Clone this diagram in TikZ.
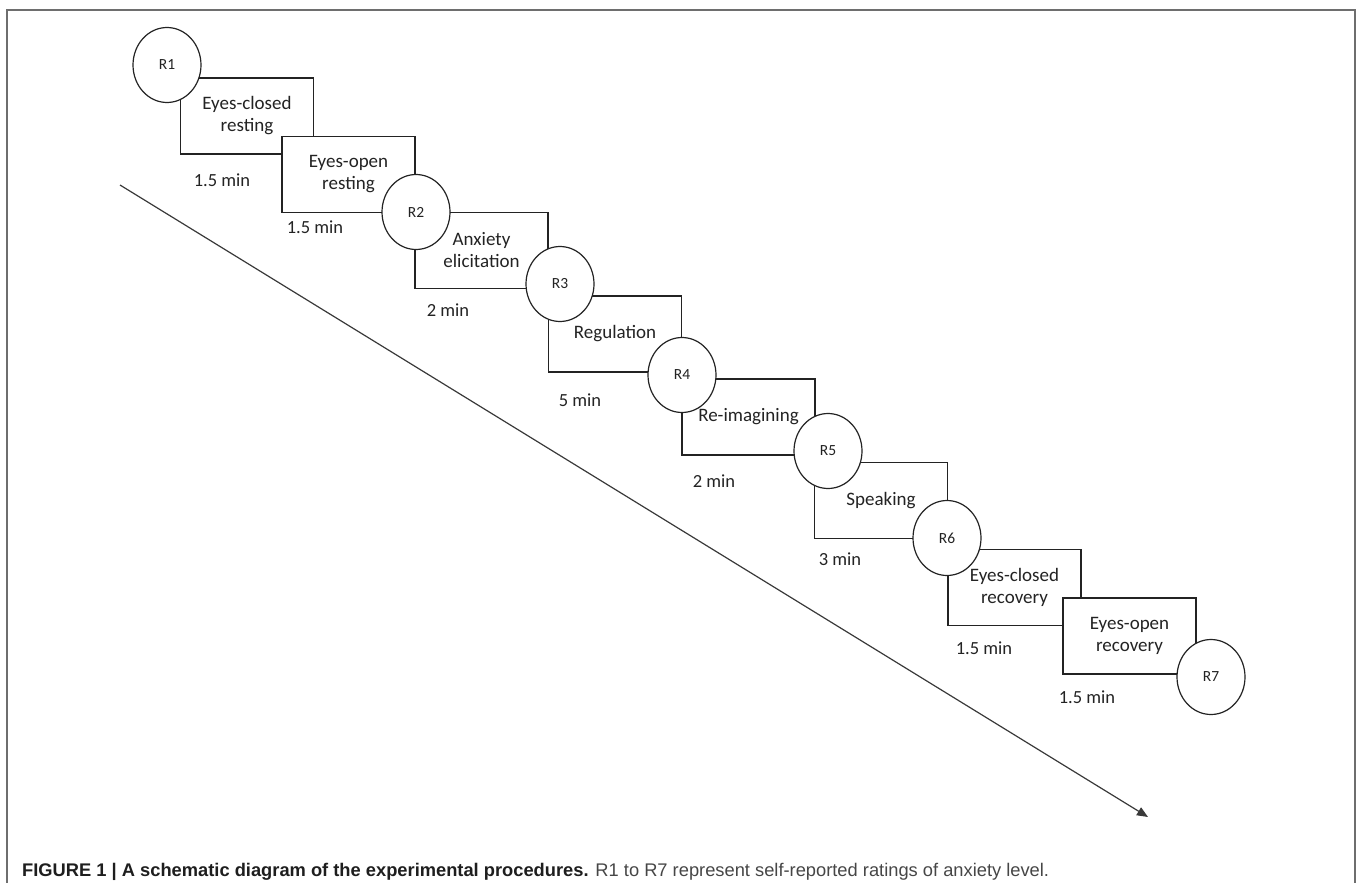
\documentclass[tikz,border=0pt]{standalone}
\usepackage{fontspec}
\setmainfont{Carlito}
\newfontfamily\capfont{Liberation Sans}
\usetikzlibrary{shapes.geometric,arrows.meta}
\definecolor{framegray}{RGB}{110,110,110}
\definecolor{capbold}{RGB}{30,30,30}
\definecolor{capreg}{RGB}{70,70,70}
\definecolor{ink}{RGB}{35,35,35}
\tikzset{
  stepbox/.style={draw=ink, line width=1.2pt, fill=white, minimum width=133pt, minimum height=76pt,
    inner sep=0pt, align=center, font=\fontsize{19}{22}\selectfont, text=ink},
  rating/.style={ellipse, draw=ink, line width=1.2pt, fill=white, minimum width=68pt, minimum height=75pt,
    inner sep=0pt, font=\fontsize{15.5}{17}\selectfont, text=ink},
  dur/.style={font=\fontsize{18.5}{22}\selectfont, text=ink, inner sep=0pt},
  timeline/.style={draw=ink!90, line width=1.2pt, -{Triangle[length=11pt,width=9pt]}},
}
\begin{document}
\begin{tikzpicture}[x=1pt,y=-1pt]
\useasboundingbox (0,0) rectangle (1358,883);
% frame
\coordinate (fbl) at (7,890);
\coordinate (ftl) at (7,10);
\coordinate (ftr) at (1355,10);
\coordinate (fbr) at (1355,890);
\draw[framegray, line width=1.5pt] (fbl) -- (ftl) -- (ftr) -- (fbr);
% boxes
\node[stepbox] (b1) at (247,116) {Eyes-closed\\resting};
\node[stepbox] (b2) at (348.5,174.5) {Eyes-open\\resting};
\node[stepbox] (b3) at (481.5,250.5) {Anxiety\\elicitation};
\node[stepbox] (b4) at (615,334) {Regulation};
\node[stepbox] (b5) at (748.5,417) {Re-imagining};
\node[stepbox] (b6) at (881,500.5) {Speaking};
\node[stepbox] (b7) at (1014.5,587.5) {Eyes-closed\\recovery};
\node[stepbox] (b8) at (1129.5,636) {Eyes-open\\recovery};
% ratings
\node[rating] (r1) at (167,65) {R1};
\node[rating] (r2) at (416,212) {R2};
\node[rating] (r3) at (560,284) {R3};
\node[rating] (r4) at (682,375) {R4};
\node[rating] (r5) at (828,451) {R5};
\node[rating] (r6) at (947,538) {R6};
\node[rating] (r7) at (1211,677) {R7};
% durations
\node[dur] (d1) at (222,180) {1.5 min};
\node[dur] (d2) at (315,227) {1.5 min};
\node[dur] (d3) at (448,310) {2 min};
\node[dur] (d4) at (580,400) {5 min};
\node[dur] (d5) at (714,481) {2 min};
\node[dur] (d6) at (840,559) {3 min};
\node[dur] (d7) at (984,648) {1.5 min};
\node[dur] (d8) at (1087,697) {1.5 min};
% time line
\coordinate (ts) at (120,185);
\coordinate (te) at (1148,817);
\draw[timeline] (ts) -- (te);
% caption
\node[anchor=base west, inner sep=0pt, font=\capfont\fontsize{18.3}{21}\selectfont] (cap) at (22,876)
  {\textcolor{capbold}{\bfseries FIGURE 1 | A schematic diagram of the experimental procedures.} \textcolor{capreg}{R1 to R7 represent self-reported ratings of anxiety level.}};
\end{tikzpicture}
\end{document}
